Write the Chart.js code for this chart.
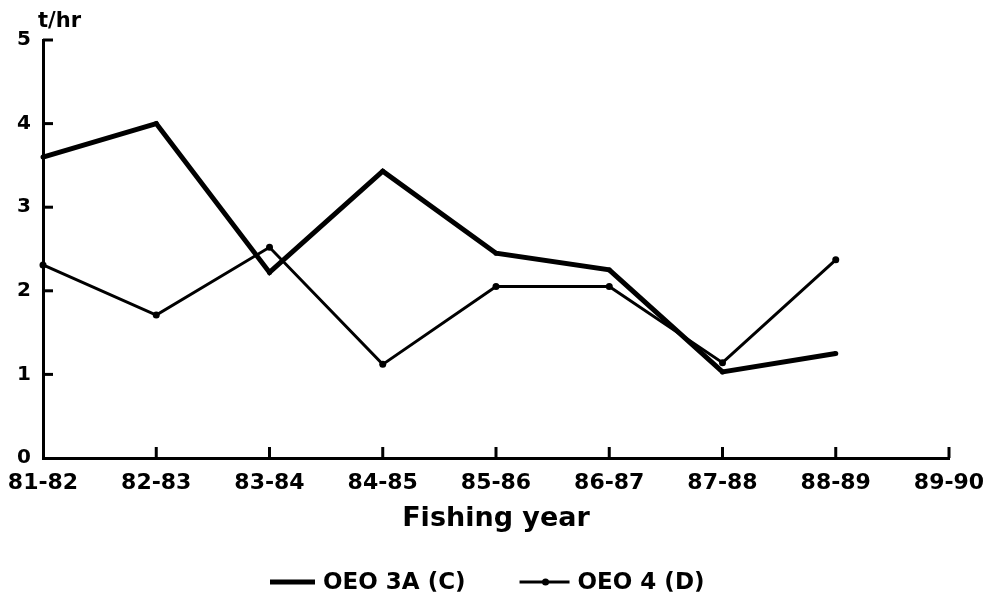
<!DOCTYPE html>
<html><head><meta charset="utf-8">
<script src="https://cdn.jsdelivr.net/npm/chart.js@4.4.1/dist/chart.umd.min.js"></script>
<style>html,body{margin:0;padding:0;background:#fff}#wrap{width:994px;height:605px;position:relative}</style>
</head><body><div id="wrap"><canvas id="c" width="994" height="605"></canvas></div>
<script>
const categories = ['81-82','82-83','83-84','84-85','85-86','86-87','87-88','88-89','89-90'];
const seriesC = [3.60, 4.00, 2.22, 3.43, 2.45, 2.25, 1.03, 1.25, null];
const seriesD = [2.31, 1.71, 2.52, 1.12, 2.05, 2.05, 1.14, 2.37, null];
const seriesNames = ['OEO 3A (C)', 'OEO 4 (D)'];
const yTicks = [0,1,2,3,4,5];
const yUnit = 't/hr';
const xTitle = 'Fishing year';

const FONT = '"DejaVu Sans", Verdana, sans-serif';

const extras = {
  id: 'extras',
  afterDraw(chart) {
    const ctx = chart.ctx, xs = chart.scales.x, ys = chart.scales.y, a = chart.chartArea;
    ctx.save();
    ctx.strokeStyle = '#000'; ctx.lineWidth = 3; ctx.lineCap = 'butt';
    for (let i = 1; i < xs.ticks.length; i++) {
      const x = xs.getPixelForTick(i);
      ctx.beginPath(); ctx.moveTo(x, a.bottom); ctx.lineTo(x, a.bottom - 11); ctx.stroke();
    }
    for (let i = 1; i < ys.ticks.length; i++) {
      const y = ys.getPixelForTick(i);
      ctx.beginPath(); ctx.moveTo(a.left, y); ctx.lineTo(a.left + 10, y); ctx.stroke();
    }
    ctx.fillStyle = '#000';
    ctx.font = 'bold 21px ' + FONT;
    ctx.textBaseline = 'alphabetic'; ctx.textAlign = 'left';
    ctx.fillText(yUnit, a.left - 5, 27);

    // legend
    const ds = chart.data.datasets;
    ctx.font = 'bold 23px ' + FONT;
    ctx.textBaseline = 'middle';
    const ly = 582;
    let x = 270;
    ds.forEach((d, i) => {
      const lw = i === 0 ? 45 : 50;
      ctx.lineWidth = d.borderWidth;
      ctx.beginPath(); ctx.moveTo(x, ly); ctx.lineTo(x + lw, ly); ctx.stroke();
      if (i === 1) { ctx.beginPath(); ctx.arc(x + 26, ly, 3.5, 0, Math.PI * 2); ctx.fill(); }
      x += lw + 8;
      ctx.fillText(d.label, x, ly + 1);
      x += ctx.measureText(d.label).width + 54;
    });
    ctx.restore();
  }
};

new Chart(document.getElementById('c'), {
  type: 'line',
  data: {
    labels: categories,
    datasets: [
      { label: seriesNames[0], data: seriesC, borderColor: '#000', backgroundColor: '#000',
        borderWidth: 5, pointRadius: 2.5, pointBackgroundColor: '#000', pointBorderWidth: 0, tension: 0 },
      { label: seriesNames[1], data: seriesD, borderColor: '#000', backgroundColor: '#000',
        borderWidth: 3, pointRadius: 3.5, pointBackgroundColor: '#000', pointBorderWidth: 0, tension: 0 }
    ]
  },
  options: {
    responsive: false, animation: false,
    layout: { padding: { top: 40, right: 45, left: 0, bottom: 0 } },
    scales: {
      x: {
        type: 'category', offset: false,
        grid: { display: false, drawTicks: false },
        border: { display: true, color: '#000', width: 3 },
        ticks: { color: '#000', font: { family: FONT, size: 22, weight: 'bold' }, padding: 12, maxRotation: 0, autoSkip: false },
        title: { display: true, text: xTitle, color: '#000', font: { family: FONT, size: 27, weight: 'bold' }, padding: { top: 0, bottom: 70 } },
        afterFit(s) { s.height = 147; s.paddingLeft = 0; s.paddingRight = 0; }
      },
      y: {
        min: 0, max: 5,
        grid: { display: false, drawTicks: false },
        border: { display: true, color: '#000', width: 3 },
        ticks: { stepSize: 1, color: '#000', font: { family: FONT, size: 20, weight: 'bold' }, padding: 12 },
        afterFit(s) { s.width = 43; },
        afterBuildTicks(s) { s.ticks = yTicks.map(v => ({ value: v })); }
      }
    },
    plugins: {
      tooltip: { enabled: false },
      legend: { display: false }
    }
  },
  plugins: [extras]
});
</script></body></html>
